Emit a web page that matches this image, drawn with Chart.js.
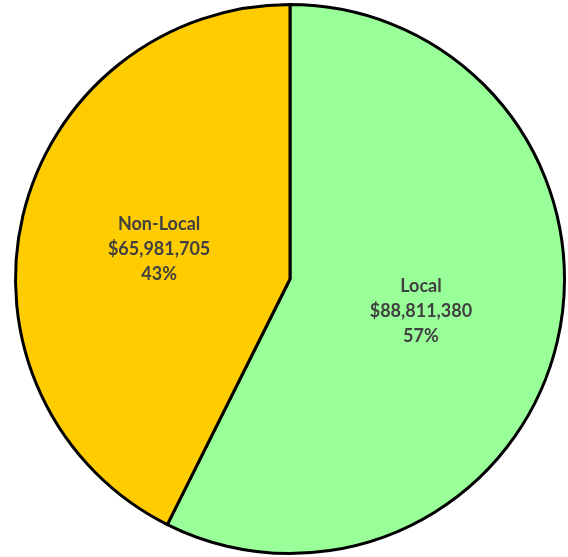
<!DOCTYPE html>
<html>
<head>
<meta charset="utf-8">
<title>Local vs Non-Local</title>
<script src="https://cdn.jsdelivr.net/npm/chart.js@4.4.1/dist/chart.umd.min.js"></script>
<style>
  html, body { margin: 0; padding: 0; background: #fff; }
  canvas { display: block; }
</style>
</head>
<body>
<canvas id="pie-chart" width="568" height="557"></canvas>
<script>
var categories = ['Local', 'Non-Local'];
var amounts = [88811380, 65981705];
var sliceColors = ['#99ff99', '#ffcc00'];

// labels inside each slice: name, dollar amount, share
var sliceLabels = {
    id: 'sliceLabels',
    afterDatasetsDraw: function(chart) {
        var ctx = chart.ctx;
        var meta = chart.getDatasetMeta(0);
        var total = amounts.reduce(function(a, b) { return a + b; }, 0);
        ctx.save();
        ctx.font = 'bold 18px Lato, "Open Sans", sans-serif';
        ctx.fillStyle = '#404040';
        ctx.textAlign = 'center';
        ctx.textBaseline = 'middle';
        meta.data.forEach(function(arc, i) {
            var p = arc.getProps(['x', 'y', 'startAngle', 'endAngle', 'outerRadius']);
            var mid = (p.startAngle + p.endAngle) / 2;
            var r = p.outerRadius * 0.49;
            var cx = p.x + Math.cos(mid) * r;
            var cy = p.y + Math.sin(mid) * r;
            var lines = [
                categories[i],
                '$' + amounts[i].toLocaleString('en-US'),
                Math.round(amounts[i] / total * 100) + '%'
            ];
            lines.forEach(function(t, j) {
                ctx.fillText(t, cx, cy + (j - 1) * 25 + 1);
            });
        });
        ctx.restore();
    }
};

var ctxPie = document.getElementById('pie-chart').getContext('2d');
var pieChart = new Chart(ctxPie, {
    type: 'pie',
    data: {
        labels: categories,
        datasets: [{
            data: amounts,
            backgroundColor: sliceColors,
            borderColor: '#000000',
            borderWidth: 3
        }]
    },
    options: {
        responsive: false,
        animation: false,
        layout: { padding: { left: 13, right: 1, top: 3, bottom: 2 } },
        plugins: {
            legend: { display: false },
            tooltip: { enabled: false }
        }
    },
    plugins: [sliceLabels]
});
</script>
</body>
</html>
